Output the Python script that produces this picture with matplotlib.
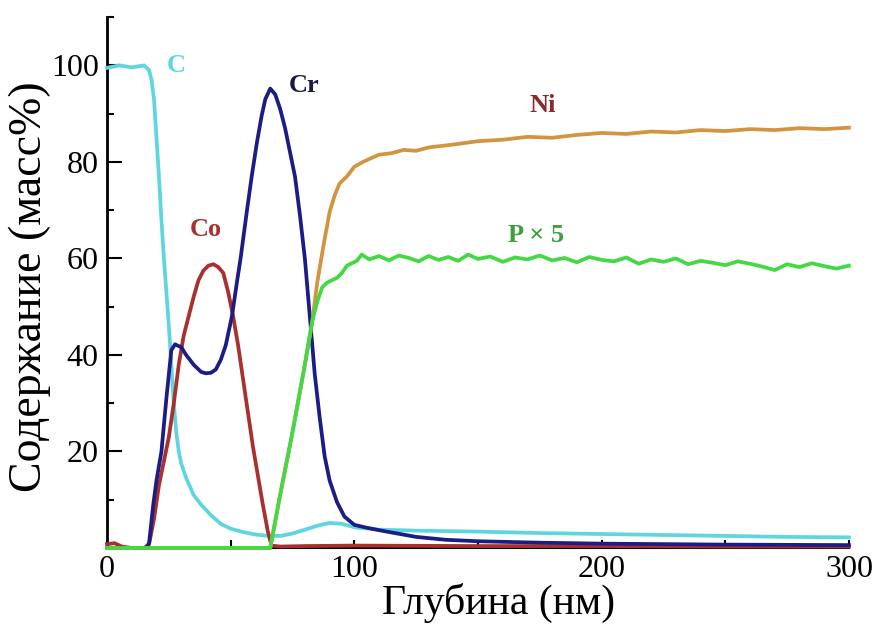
import matplotlib
matplotlib.use("Agg")
import matplotlib.pyplot as plt
from matplotlib.ticker import MultipleLocator

plt.rcParams['font.family'] = ['Liberation Serif', 'DejaVu Serif']

# Профили состава по глубине (масс%)
depth_c = [0, 5, 10, 15, 17, 18, 19, 20, 21, 22, 23, 24, 25, 26, 27, 28, 29, 30, 32, 35,
           38, 42, 46, 50, 55, 60, 65, 70, 75, 80, 85, 90, 95, 100, 110, 125, 150, 175,
           200, 225, 250, 275, 300]
conc_c = [99.5, 100, 99.6, 100, 99, 97, 93, 85, 77, 68, 60, 53, 46, 38, 30, 24, 20, 17.5,
          14.5, 11, 9, 6.8, 5, 4, 3.3, 2.8, 2.5, 2.5, 3, 3.8, 4.6, 5.2, 5.0, 4.3, 3.8, 3.6,
          3.4, 3.1, 2.9, 2.7, 2.5, 2.3, 2.2]

depth_co = [0, 3, 6, 10, 15, 17, 19, 21, 23, 25, 27, 29, 31, 33, 35, 37, 39, 41, 43, 45,
            47, 49, 51, 53, 55, 57, 59, 61, 63, 65, 66.5, 70, 80, 100, 150, 200, 250, 300]
conc_co = [0.8, 1.0, 0.3, 0, 0, 0.8, 6, 13, 18, 23, 30, 38, 44, 48, 52, 55.5, 57.5, 58.5,
           58.8, 58.2, 57, 53, 48, 42, 35, 28, 21, 15, 9, 3.5, 0.5, 0.3, 0.4, 0.5, 0.4,
           0.4, 0.3, 0.3]

depth_cr = [0, 16, 17, 18.7, 20, 22, 24, 26, 27.5, 30, 32, 35, 38, 40, 42, 44, 46, 48, 50.5,
            52.5, 54, 56.6, 58.5, 60.6, 62.5, 64, 66, 68, 70, 72, 74, 76, 78, 80, 82, 84,
            86, 88, 90, 93, 96, 100, 105, 112, 125, 137, 150, 175, 200, 250, 300]
conc_cr = [0, 0, 1, 9, 14, 20, 31, 41, 42.2, 41.6, 40, 38, 36.5, 36.2, 36.3, 37, 39, 42, 48,
           55, 60, 70, 77, 84, 89.5, 93, 95.2, 94, 91, 87, 82, 77, 69, 60, 48, 36, 27, 19,
           14, 9.5, 6.5, 4.8, 4.2, 3.5, 2.3, 1.7, 1.4, 1.1, 0.9, 0.7, 0.6]

depth_ni = [0, 66, 70, 75, 80, 83, 85, 87.5, 90, 92, 94, 97, 100, 103.5, 106, 110, 115, 120,
            125, 130, 140, 150, 160, 170, 180, 190, 200, 210, 220, 230, 240, 250, 260, 270,
            280, 290, 300]
conc_ni = [0, 0, 11, 24, 38, 47, 55, 62.6, 69.6, 73, 75.5, 77, 79, 80, 80.6, 81.5, 81.8,
           82.5, 82.3, 83, 83.6, 84.3, 84.6, 85.2, 85, 85.6, 86, 85.8, 86.3, 86.1, 86.6, 86.4,
           86.8, 86.6, 87, 86.8, 87.1]

depth_p = [0, 66, 70, 75, 80, 83, 85, 87, 89, 91, 93, 95, 97, 99, 101, 103, 106, 110, 114,
           118, 122, 126, 130, 134, 138, 142, 146, 150, 155, 160, 165, 170, 175, 180, 185,
           190, 195, 200, 205, 210, 215, 220, 225, 230, 235, 240, 245, 250, 255, 260, 265,
           270, 275, 280, 285, 290, 295, 300]
conc_p = [0, 0, 11, 24, 38, 47, 51, 54, 55, 55.5, 56, 57, 58.5, 59, 59.5, 60.8, 59.8, 60.5,
          59.6, 60.6, 60.1, 59.4, 60.5, 59.7, 60.3, 59.5, 60.8, 59.9, 60.4, 59.3, 60.2, 59.8,
          60.6, 59.6, 60.1, 59.2, 60.3, 59.7, 59.4, 60.2, 58.9, 59.8, 59.3, 60, 58.8, 59.5,
          59.1, 58.6, 59.4, 58.9, 58.3, 57.6, 58.8, 58.2, 59, 58.4, 57.9, 58.5]

series = [
    (depth_c, conc_c, '#5fd6df'),
    (depth_co, conc_co, '#a8302e'),
    (depth_cr, conc_cr, '#1c1c86'),
    (depth_ni, conc_ni, '#d39442'),
    (depth_p, conc_p, '#45d845'),
]

labels = [
    ('C', 28, 100, '#5fd6df'),
    ('Co', 40, 65.9, '#a8302e'),
    ('Cr', 79.7, 95.8, '#1a1a40'),
    ('Ni', 176, 91.7, '#8b2a2a'),
    ('P × 5', 173.5, 64.7, '#3f9f3f'),
]

fig = plt.figure(figsize=(8.78, 6.26), dpi=100)
ax = fig.add_axes([0.1219, 0.1246, 0.845, 0.848])

for x, y, col in series:
    ax.plot(x, y, color=col, lw=2.7, zorder=3, clip_on=False)

for txt, x, y, col in labels:
    ax.text(x, y, txt, color=col, fontsize=19, fontweight='bold', ha='center', va='center')

ax.set_xlim(0, 300)
ax.set_ylim(0, 110)
ax.spines['top'].set_visible(False)
ax.spines['right'].set_visible(False)
ax.spines['left'].set_linewidth(2)
ax.spines['bottom'].set_linewidth(1.5)

ax.xaxis.set_major_locator(MultipleLocator(100))
ax.xaxis.set_minor_locator(MultipleLocator(50))
ax.yaxis.set_major_locator(MultipleLocator(20))
ax.yaxis.set_minor_locator(MultipleLocator(10))
ax.tick_params(axis='x', which='both', direction='in', length=6, width=1.5,
               labelsize=23, pad=5)
ax.tick_params(axis='y', which='major', direction='in', length=11, width=1.5,
               labelsize=23, pad=6)
ax.tick_params(axis='y', which='minor', direction='in', length=5, width=1.5)
ax.set_yticks([20, 40, 60, 80, 100])

fig.text(499 / 878, 1 - 603 / 626, 'Глубина (нм)', fontsize=30, ha='center', va='center')
fig.text(30 / 878, 1 - 287 / 626, 'Содержание (масс%)', fontsize=33, rotation=90,
         ha='center', va='center')

fig.savefig('out.png', dpi=100)
